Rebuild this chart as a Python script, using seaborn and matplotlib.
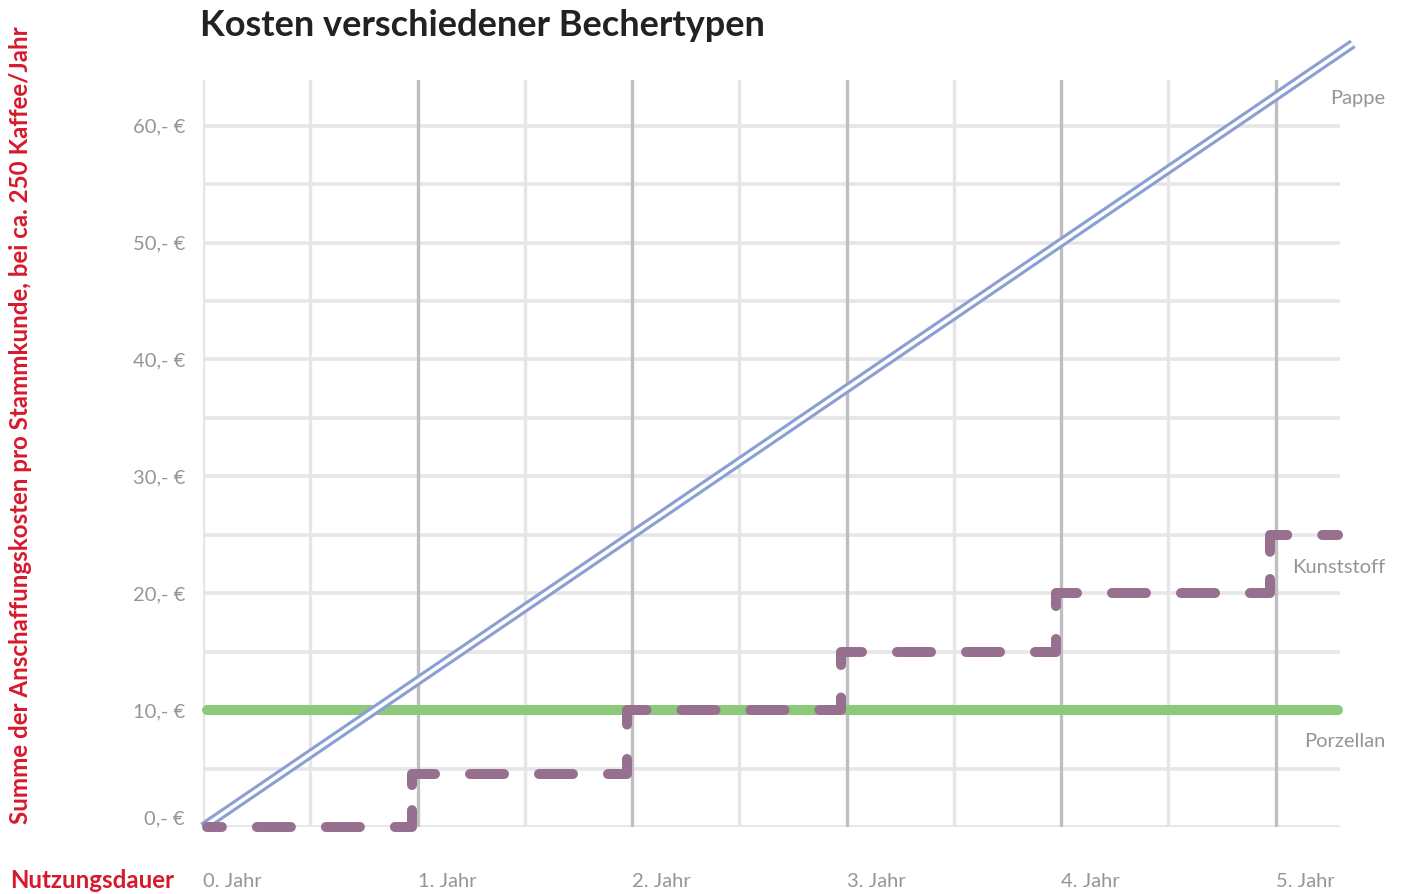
# Kosten verschiedener Bechertypen - line chart with seaborn

import numpy as np
import pandas as pd
import matplotlib
matplotlib.use('Agg')
import matplotlib.pyplot as plt
import seaborn as sns

sns.set_theme(style='white')
plt.rcParams['font.family'] = ['Lato', 'DejaVu Sans']

# data
pappe_x = [0, 5.36]
pappe_y = [0, 67.0]

porzellan_x = [0.02, 5.29]
porzellan_y = [10, 10]

kunststoff_x = [0.02, 0.975, 1.975, 2.975, 3.975, 4.975, 5.29]
kunststoff_y = [0, 4.5, 10, 15, 20, 25, 25]

year_ticks = [0, 1, 2, 3, 4, 5]
year_labels = ['0. Jahr', '1. Jahr', '2. Jahr', '3. Jahr', '4. Jahr', '5. Jahr']
half_year_ticks = [0.5, 1.5, 2.5, 3.5, 4.5]
euro_ticks = [0, 10, 20, 30, 40, 50, 60]
euro_labels = ['0,- €', '10,- €', '20,- €', '30,- €', '40,- €', '50,- €', '60,- €']
euro_minor = [5, 15, 25, 35, 45, 55]

series_names = ['Pappe', 'Kunststoff', 'Porzellan']
label_y = [62.3, 22.2, 7.3]

c_pappe = '#8c9fd4'
c_kunst = '#98708f'
c_porz = '#8cc97b'
c_grid = '#e6e6e8'
c_grid_dark = '#bfbfc3'
c_text = '#959595'
c_red = '#d7192d'

LW = 7.2            # points -> 10 px at dpi 100
ON, OFF = 3.4, 3.5  # dash pattern in linewidth units

fig = plt.figure(figsize=(14.01, 8.94), dpi=100)
ax = fig.add_axes([0.1449, 0.0749, 0.9565 - 0.1449, 0.9105 - 0.0749])
ax.set_xlim(0, 5.3)
ax.set_ylim(0, 63.9)

df_porz = pd.DataFrame({'x': porzellan_x, 'y': porzellan_y})
df_pappe = pd.DataFrame({'x': pappe_x, 'y': pappe_y})

sns.lineplot(data=df_porz, x='x', y='y', ax=ax, color=c_porz, linewidth=LW,
             solid_capstyle='round', clip_on=False, zorder=3)
# double line: thick blue with white core
sns.lineplot(data=df_pappe, x='x', y='y', ax=ax, color=c_pappe, linewidth=7.0,
             solid_capstyle='butt', clip_on=False, zorder=4)
sns.lineplot(data=df_pappe, x='x', y='y', ax=ax, color='white', linewidth=2.6,
             solid_capstyle='butt', clip_on=False, zorder=5)

# Kunststoff: step line, drawn level by level so every corner gets a dash
n = len(kunststoff_y) - 1
unit_px = LW * fig.dpi / 72.0
period = ON + OFF
for i in range(n):
    xs = [kunststoff_x[i], kunststoff_x[i + 1]]
    ys = [kunststoff_y[i], kunststoff_y[i]]
    if i > 0:
        xs = [kunststoff_x[i]] + xs
        ys = [(kunststoff_y[i - 1] + kunststoff_y[i]) / 2] + ys
    if i < n - 1:
        xs = xs + [kunststoff_x[i + 1]]
        ys = ys + [(kunststoff_y[i] + kunststoff_y[i + 1]) / 2]
    pts = ax.transData.transform(np.column_stack([xs, ys]))
    seg = np.hypot(*np.diff(pts, axis=0).T) / unit_px
    total = seg.sum()
    if i == 0 or i == n - 1:
        # first corner of the piece sits in the middle of a dash
        offset = (ON / 2 - seg[0]) % period
    else:
        # gap centred on the level
        offset = (ON + OFF / 2 - total / 2) % period
    df_k = pd.DataFrame({'x': xs, 'y': ys})
    sns.lineplot(data=df_k, x='x', y='y', ax=ax, color=c_kunst, linewidth=LW,
                 clip_on=False, zorder=6, estimator=None, sort=False)
    kline = ax.get_lines()[-1]
    kline.set_linestyle((offset, (ON, OFF)))
    kline.set_dash_capstyle('round')
    kline.set_dash_joinstyle('round')

ax.set_xticks(year_ticks, labels=year_labels, ha='left')
ax.set_xticks(half_year_ticks, minor=True)
ax.set_yticks(euro_ticks, labels=euro_labels)
ax.set_yticks(euro_minor, minor=True)

ax.tick_params(axis='x', which='both', length=0, pad=33, labelsize=14.5, labelcolor=c_text)
ax.tick_params(axis='y', which='both', length=0, pad=13, labelsize=14.5, labelcolor=c_text)
ax.get_yticklabels()[0].set_va('bottom')

ax.set_axisbelow(True)
ax.grid(axis='y', which='both', color=c_grid, linewidth=2.6)
ax.grid(axis='x', which='minor', color=c_grid, linewidth=2.4)
ax.grid(axis='x', which='major', color=c_grid_dark, linewidth=2.4)
ax.xaxis.get_gridlines()[0].set_color(c_grid)
ax.xaxis.set_zorder(0.6)

for s in ax.spines.values():
    s.set_visible(False)
ax.set_xlabel('')
ax.set_ylabel('')

for name, ly in zip(series_names, label_y):
    ax.text(5.51, ly, name, ha='right', va='center', fontsize=14.5, color=c_text,
            clip_on=False)

fig.text(200 / 1401, 1 - 25 / 894, 'Kosten verschiedener Bechertypen', fontsize=26,
         fontweight='bold', color='#222222', ha='left', va='center')
fig.text(21 / 1401, 1 - 425 / 894,
         'Summe der Anschaffungskosten pro Stammkunde, bei ca. 250 Kaffee/Jahr',
         rotation=90, fontsize=17.4, fontweight='bold', color=c_red, ha='center', va='center')
fig.text(10 / 1401, 1 - 880 / 894, 'Nutzungsdauer', fontsize=17.3, fontweight='bold',
         color=c_red, ha='left', va='center')

plt.savefig('out.png', dpi=100)
